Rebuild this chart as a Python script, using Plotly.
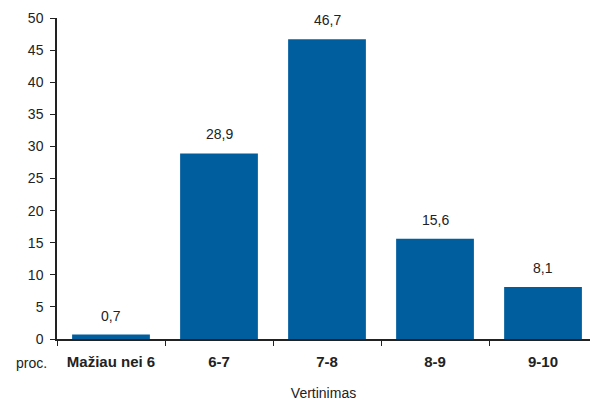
import plotly.graph_objects as go

categories = ["Mažiau nei 6", "6-7", "7-8", "8-9", "9-10"]
values = [0.7, 28.9, 46.7, 15.6, 8.1]
value_labels = ["0,7", "28,9", "46,7", "15,6", "8,1"]
y_ticks = [0, 5, 10, 15, 20, 25, 30, 35, 40, 45, 50]

BAR = "#005E9E"
FONT = "Liberation Sans, Arial, sans-serif"

fig = go.Figure()
fig.add_trace(go.Bar(
    x=categories, y=values, marker=dict(color=BAR, line=dict(width=0)),
    width=0.72, hoverinfo="skip",
))

for c, v, t in zip(categories, values, value_labels):
    fig.add_annotation(x=c, y=v, text=t, showarrow=False, yanchor="bottom",
                       yshift=9, font=dict(family=FONT, size=14, color="#222"))

fig.add_annotation(xref="paper", yref="paper", x=-0.015, y=0, xanchor="right",
                   yanchor="top", yshift=-14, text="proc.", showarrow=False,
                   font=dict(family=FONT, size=14, color="#222"))

fig.update_layout(
    width=590, height=401,
    margin=dict(l=57, r=0, t=18, b=62),
    plot_bgcolor="white", paper_bgcolor="white",
    showlegend=False,
    font=dict(family=FONT, size=14, color="#222"),
    xaxis=dict(
        range=[-0.5, 4.435],
        showline=True, linecolor="#222", linewidth=1.5,
        ticks="outside", tickson="boundaries", ticklen=5, tickcolor="#222",
        ticklabelstandoff=8,
        tickfont=dict(family=FONT, size=15, color="#222", weight="bold"),
        title=dict(text="Vertinimas", font=dict(family=FONT, size=14, color="#222"), standoff=22),
        showgrid=False,
    ),
    yaxis=dict(
        range=[0, 50], tickvals=y_ticks,
        showline=True, linecolor="#222", linewidth=1.5,
        ticks="outside", ticklen=5, tickcolor="#222",
        ticklabelstandoff=4,
        tickfont=dict(family=FONT, size=14, color="#222"),
        showgrid=False, zeroline=False,
    ),
)

fig.write_html("out.html")
